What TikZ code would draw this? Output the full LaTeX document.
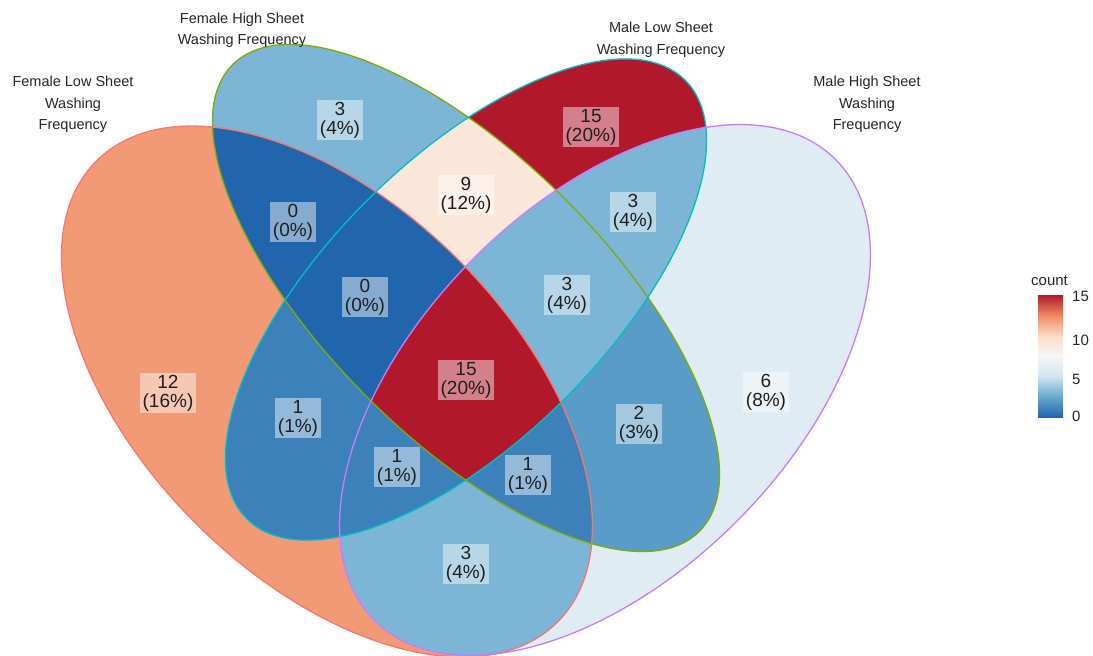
\documentclass[tikz,border=0pt]{standalone}
\usepackage{fontspec}
\setmainfont{Liberation Sans}
\definecolor{c0}{HTML}{2166AC}
\definecolor{c1}{HTML}{3D81BA}
\definecolor{c2}{HTML}{599CC8}
\definecolor{c3}{HTML}{7CB5D6}
\definecolor{c6}{HTML}{E0ECF3}
\definecolor{c9}{HTML}{FBE6DA}
\definecolor{c12}{HTML}{F29A76}
\definecolor{c15}{HTML}{B2182B}
\definecolor{g25}{HTML}{67A9CF}
\definecolor{g50}{HTML}{D1E5F0}
\definecolor{g75}{HTML}{F7F7F7}
\definecolor{g100}{HTML}{FDDBC7}
\definecolor{g125}{HTML}{EF8A62}
\definecolor{oFL}{HTML}{F8766D}
\definecolor{oFH}{HTML}{7CAE00}
\definecolor{oML}{HTML}{00BFC4}
\definecolor{oMH}{HTML}{C77CFF}
\begin{document}
\begin{tikzpicture}[x=1pt,y=-1pt,
  lab/.style={fill=white, fill opacity=0.45, text opacity=1, text=black!88, align=center,
    inner xsep=3pt, inner ysep=2pt, font=\fontsize{19}{19}\selectfont},
  ttl/.style={align=center, text=black!85, font=\fontsize{14.5}{21.5}\selectfont},
  leg/.style={text=black!85, font=\fontsize{15}{15}\selectfont, inner sep=0pt},
  outl/.style={line width=1.3pt}
  ]
\useasboundingbox[fill=white] (0,0) rectangle (1093,656);
\def\FLe{(327,391.5) circle [x radius=326pt, y radius=186pt, rotate=-45]}
\def\FHe{(466,298) circle [x radius=330pt, y radius=140pt, rotate=-45]}
\def\MLe{(466,299.5) circle [x radius=310pt, y radius=140pt, rotate=45]}
\def\MHe{(605,390) circle [x radius=326pt, y radius=186pt, rotate=45]}
% single sets
\fill[c12] \FLe;
\fill[c3] \FHe;
\fill[c15] \MLe;
\fill[c6] \MHe;
% pairs
\begin{scope}\clip \FLe; \fill[c0] \FHe; \end{scope}
\begin{scope}\clip \FLe; \fill[c1] \MLe; \end{scope}
\begin{scope}\clip \FLe; \fill[c3] \MHe; \end{scope}
\begin{scope}\clip \FHe; \fill[c9] \MLe; \end{scope}
\begin{scope}\clip \FHe; \fill[c2] \MHe; \end{scope}
\begin{scope}\clip \MLe; \fill[c3] \MHe; \end{scope}
% triples
\begin{scope}\clip \FLe; \clip \FHe; \fill[c0] \MLe; \end{scope}
\begin{scope}\clip \FLe; \clip \FHe; \fill[c1] \MHe; \end{scope}
\begin{scope}\clip \FLe; \clip \MLe; \fill[c1] \MHe; \end{scope}
\begin{scope}\clip \FHe; \clip \MLe; \fill[c3] \MHe; \end{scope}
% all four
\begin{scope}\clip \FLe; \clip \FHe; \clip \MLe; \fill[c15] \MHe; \end{scope}
% outlines
\draw[outl, oFL] \FLe;
\draw[outl, oFH] \FHe;
\draw[outl, oML] \MLe;
\draw[outl, oMH] \MHe;
% region labels
\node[lab] (fh) at (340,120) {3\\(4\%)};
\node[lab] (ml) at (591,127) {15\\(20\%)};
\node[lab] (fl) at (168,393) {12\\(16\%)};
\node[lab] (mh) at (766,392) {6\\(8\%)};
\node[lab] (flfh) at (293,222) {0\\(0\%)};
\node[lab] (fhml) at (466,195) {9\\(12\%)};
\node[lab] (mlmh) at (633,212) {3\\(4\%)};
\node[lab] (flfhml) at (365,297) {0\\(0\%)};
\node[lab] (fhmlmh) at (567,295) {3\\(4\%)};
\node[lab] (all) at (466,380) {15\\(20\%)};
\node[lab] (flml) at (298,418) {1\\(1\%)};
\node[lab] (flmlmh) at (397,467) {1\\(1\%)};
\node[lab] (flfhmh) at (528,475) {1\\(1\%)};
\node[lab] (fhmh) at (639,424) {2\\(3\%)};
\node[lab] (flmh) at (466,564) {3\\(4\%)};
% set titles
\node[ttl] (tFL) at (73,104.5) {Female Low Sheet\\Washing\\Frequency};
\node[ttl] (tFH) at (242,30.5) {Female High Sheet\\Washing Frequency};
\node[ttl] (tML) at (661,39.5) {Male Low Sheet\\Washing Frequency};
\node[ttl] (tMH) at (867,104.5) {Male High Sheet\\Washing\\Frequency};
% legend
\node[leg, anchor=south west] (cnt) at (1031,286) {count};
\shade[bottom color=c0, top color=g25] (1038,417) rectangle (1063,396.7);
\shade[bottom color=g25, top color=g50] (1038,396.9) rectangle (1063,376.3);
\shade[bottom color=g50, top color=g75] (1038,376.5) rectangle (1063,356);
\shade[bottom color=g75, top color=g100] (1038,356.2) rectangle (1063,335.7);
\shade[bottom color=g100, top color=g125] (1038,335.9) rectangle (1063,315.3);
\shade[bottom color=g125, top color=c15] (1038,315.5) rectangle (1063,295);
\node[leg, anchor=west] (t15) at (1072,296) {15};
\node[leg, anchor=west] (t10) at (1072,340) {10};
\node[leg, anchor=west] (t5) at (1072,379) {5};
\node[leg, anchor=west] (t0) at (1072,416.5) {0};
\end{tikzpicture}
\end{document}
